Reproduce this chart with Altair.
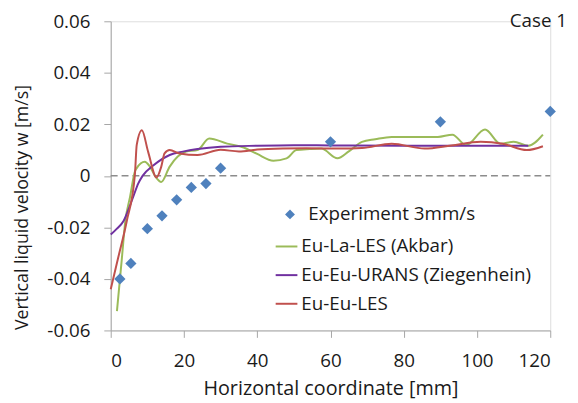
import altair as alt
import pandas as pd

# Experiment 3mm/s (diamonds)
exp_x = [2.5, 5.5, 10, 14, 18, 22, 26, 30, 60, 90, 120]
exp_y = [-0.040, -0.034, -0.0205, -0.0155, -0.0093, -0.0045, -0.003, 0.003, 0.0132, 0.021, 0.025]

# Eu-La-LES (Akbar)
akbar_x = [1.7, 3, 4, 5.3, 6.6, 7.1, 9.3, 10.7, 12.3, 13.8, 16.1, 18.3, 20.6, 23.7, 26.9,
           31.8, 36.3, 40, 44.4, 48, 50.7, 54.3, 57.5, 61.9, 65, 68.6, 72.2, 76.7, 82,
           89.3, 93.3, 97, 102.2, 106.4, 110, 114, 118]
akbar_y = [-0.0525, -0.0327, -0.0174, -0.008, 0.0017, 0.003, 0.0055, 0.0036, -0.0005, -0.0024,
           0.0036, 0.0075, 0.0094, 0.0100, 0.0145, 0.0125, 0.0110, 0.0085, 0.0059, 0.0068,
           0.0100, 0.0104, 0.0106, 0.0068, 0.0095, 0.0132, 0.0142, 0.0151, 0.0151, 0.0151,
           0.0160, 0.0119, 0.0180, 0.0125, 0.0132, 0.0117, 0.0160]

# Eu-Eu-URANS (Ziegenhein)
urans_x = [0, 1.7, 3.5, 5.0, 6.3, 7.5, 8.7, 11.6, 16.1, 19.7, 23.7, 30, 40, 50, 60, 80, 100, 114]
urans_y = [-0.0228, -0.0205, -0.0175, -0.0125, -0.0075, -0.0030, 0.0, 0.0040, 0.0081, 0.0094, 0.0104,
           0.0113, 0.0117, 0.0119, 0.0118, 0.0117, 0.0117, 0.0117]

# Eu-Eu-LES
les_x = [0, 2, 4.4, 6.6, 7.1, 8.5, 10.2, 12.5, 13.8, 14.7, 16.1, 18.8, 23.7, 30, 35, 40,
         47, 53.4, 62.3, 68.6, 76.7, 85.7, 93, 101, 107, 113.6, 118]
les_y = [-0.044, -0.032, -0.0174, 0.0005, 0.012, 0.0177, 0.0094, -0.0006, 0.0036, 0.0087,
         0.0100, 0.0087, 0.0081, 0.0101, 0.0095, 0.0102, 0.0106, 0.0107, 0.0106, 0.0108,
         0.0125, 0.0106, 0.0118, 0.0132, 0.0125, 0.0100, 0.0115]

line_names = ["Eu-La-LES (Akbar)", "Eu-Eu-URANS (Ziegenhein)", "Eu-Eu-LES"]
line_colors = ["#9BBB59", "#7030A0", "#C0504D"]
exp_name = "Experiment 3mm/s"

x_ticks = [0, 20, 40, 60, 80, 100, 120]
y_ticks = [-0.06, -0.04, -0.02, 0, 0.02, 0.04, 0.06]

FONT = "Open Sans"
TXT = "#1a1a1a"

exp_df = pd.DataFrame({"x": exp_x, "y": exp_y, "series": exp_name})
lines_df = pd.concat([
    pd.DataFrame({"x": akbar_x, "y": akbar_y, "series": line_names[0], "order": range(len(akbar_x))}),
    pd.DataFrame({"x": urans_x, "y": urans_y, "series": line_names[1], "order": range(len(urans_x))}),
    pd.DataFrame({"x": les_x, "y": les_y, "series": line_names[2], "order": range(len(les_x))}),
])
zero_df = pd.DataFrame({"x": [0], "x2": [120], "y": [0]})
case_df = pd.DataFrame({"x": [120], "y": [0.06], "t": ["Case 1"]})

xs = alt.Scale(domain=[0, 120], nice=False)
ys = alt.Scale(domain=[-0.06, 0.06], nice=False)

x_axis = alt.Axis(values=x_ticks, title="Horizontal coordinate [mm]", grid=False,
                  domainColor="#a6a6a6", tickColor="#a6a6a6", tickSize=7, labelPadding=15,
                  labelFontSize=19, titleFontSize=20, labelFont=FONT, titleFont=FONT,
                  labelColor=TXT, titleColor=TXT, titleFontWeight="normal", titlePadding=8)
y_axis = alt.Axis(values=y_ticks, title="Vertical liquid velocity w [m/s]", grid=False,
                  domainColor="#a6a6a6", tickColor="#a6a6a6", tickSize=7, labelPadding=14,
                  labelFontSize=19, titleFontSize=18, labelFont=FONT, titleFont=FONT,
                  labelColor=TXT, titleColor=TXT, titleFontWeight="normal",
                  titleX=-80, titleY=188, titleAngle=-90, titleBaseline="bottom", titleAlign="center",
                  labelExpr="datum.value == 0 ? '0' : (datum.value < 0 ? '-' + format(-datum.value, '.2f') : format(datum.value, '.2f'))")

zero = alt.Chart(zero_df).mark_rule(color="#8c8c8c", strokeDash=[7, 4], strokeWidth=1.5).encode(
    x=alt.X("x:Q", scale=xs, axis=x_axis), x2="x2:Q",
    y=alt.Y("y:Q", scale=ys, axis=y_axis))

lines = alt.Chart(lines_df).mark_line(strokeWidth=2, interpolate="monotone").encode(
    x=alt.X("x:Q", scale=xs),
    y=alt.Y("y:Q", scale=ys),
    order="order:Q",
    color=alt.Color("series:N",
                    scale=alt.Scale(domain=line_names, range=line_colors),
                    legend=alt.Legend(orient="none", legendX=166, legendY=216, title=None,
                                      symbolType="stroke", symbolSize=484, symbolStrokeWidth=2,
                                      labelFontSize=19, labelFont=FONT, labelColor=TXT,
                                      labelOffset=3, rowPadding=7, padding=0, labelLimit=400)))

points = alt.Chart(exp_df).mark_point(shape="diamond", filled=True, size=130, color="#4F81BD", opacity=1).encode(
    x=alt.X("x:Q", scale=xs),
    y=alt.Y("y:Q", scale=ys),
    shape=alt.Shape("series:N",
                    scale=alt.Scale(domain=[exp_name], range=["diamond"]),
                    legend=alt.Legend(orient="none", legendX=172, legendY=186, title=None,
                                      symbolSize=100, symbolFillColor="#4F81BD", symbolOpacity=1,
                                      symbolStrokeWidth=0,
                                      labelFontSize=19, labelFont=FONT, labelColor=TXT,
                                      labelOffset=9, padding=0, labelLimit=400)))

case = alt.Chart(case_df).mark_text(align="right", baseline="middle", dx=17, dy=0,
                                    fontSize=19, font=FONT, color=TXT).encode(
    x=alt.X("x:Q", scale=xs), y=alt.Y("y:Q", scale=ys), text="t:N")

chart = alt.layer(zero, lines, points, case).properties(
    width=445, height=313, autosize="none",
    padding={"left": 104, "top": 11, "right": 20, "bottom": 70},
).configure_view(stroke=None).configure(background="white")

chart.save("out.html", embed_options={"renderer": "svg", "actions": False})
